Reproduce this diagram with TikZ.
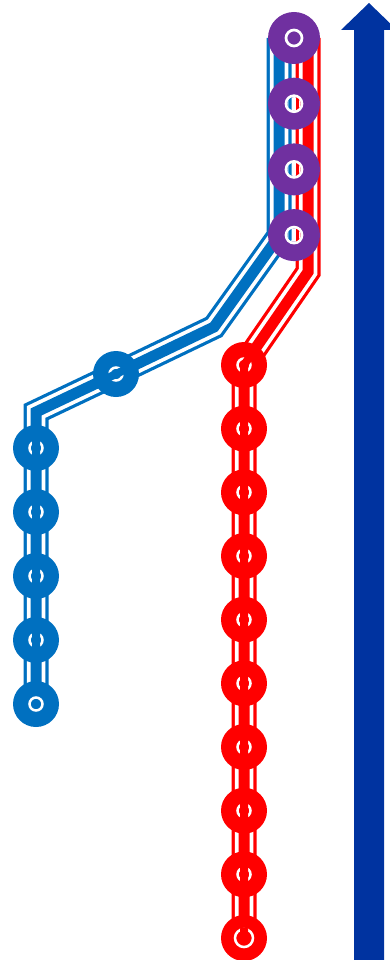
\documentclass[tikz,border=0pt]{standalone}
\usepackage{tikz}
\usetikzlibrary{backgrounds,positioning}
\definecolor{lineblue}{HTML}{0070C0}
\definecolor{linered}{HTML}{FF0000}
\definecolor{linepurple}{HTML}{7030A0}
\definecolor{arrowblue}{HTML}{0033A0}
\tikzset{
  ring/.store in=\stnring, ring=6.5pt,
  stn/.style={circle,fill=#1,inner sep=0pt,minimum size=46pt,
    path picture={\draw[white,line width=2.5pt] (path picture bounding box.center) circle[radius=\stnring];}},
  sharedstn/.style={circle,fill=linepurple,inner sep=0pt,minimum size=52pt,
    path picture={\draw[white,line width=2.7pt] (path picture bounding box.center) circle[radius=8pt];}}
}
\newcommand{\route}[2]{%
  \draw[#1,line width=25pt] #2;
  \draw[white,line width=18.5pt] #2;
  \draw[#1,line width=11pt] #2;}

\begin{document}
\begin{tikzpicture}[x=1pt,y=-1pt,on grid]
\useasboundingbox (0,0) rectangle (390,960);

\node[sharedstn] (p1) at (294,38) {};
\node[sharedstn,below=65.7pt of p1] (p2) {};
\node[sharedstn,below=65.7pt of p2] (p3) {};
\node[sharedstn,below=65.7pt of p3] (p4) {};

\node[stn=lineblue] (u1) at (116,374) {};
\node[stn=lineblue] (l1) at (36,448) {};
\foreach \i [count=\j] in {2,...,5}
  \node[stn=lineblue,below=64pt of l\j] (l\i) {};

\node[stn=linered] (r1) at (244,365) {};
\foreach \i [count=\j] in {2,...,9}
  \node[stn=linered,below=63.67pt of r\j] (r\i) {};
\node[stn=linered,ring=9pt,below=63.67pt of r9] (r10) {};

\coordinate (b0) at ([xshift=-15pt]p1.center);
\coordinate (b1) at (279,236);
\coordinate (b2) at (214,327);
\coordinate (b3) at (36,412);
\coordinate (c0) at ([xshift=14pt]p1.center);
\coordinate (c1) at (308,272);

\begin{scope}[on background layer]
  \route{lineblue}{(b0) -- (b1) -- (b2) -- (u1.center) -- (b3) -- (l5.center)}
  \route{linered}{(c0) -- (c1) -- (r1.center) -- (r10.center)}
\end{scope}

\begin{scope}
  \clip \foreach \n in {p2,p3,p4} {(\n.center) circle[radius=6.6pt]};
  \fill[white] (250,60) rectangle (340,260);
  \route{lineblue}{(b0) -- (b1) -- (b2)}
  \route{linered}{(c0) -- (c1)}
\end{scope}

\begin{scope}
  \clip \foreach \n in {u1,l1,l2,l3,l4,r1,r2,r3,r4,r5,r6,r7,r8,r9,r10} {(\n.center) circle[radius=10.5pt]};
  \draw[lineblue,line width=8pt] (b2) -- (u1.center) -- (b3) -- (l5.center);
  \draw[linered,line width=8pt] (c1) -- (r1.center) -- (r10.center);
\end{scope}

\fill[linepurple] (p1.center) circle[radius=2.3pt];
\fill[lineblue] (l5.center) circle[radius=2.3pt];

\coordinate (a0) at (369,960);
\coordinate (a1) at (369,3);
\begin{scope}
  \clip (0,0) rectangle (390,960);
  \fill[arrowblue] ([xshift=-15pt]a0) -- ([xshift=-15pt]a1 |- 0,30) -- (341,30) -- (a1)
    -- (397,30) -- ([xshift=15pt]a1 |- 0,30) -- ([xshift=15pt]a0) -- cycle;
\end{scope}
\end{tikzpicture}
\end{document}
